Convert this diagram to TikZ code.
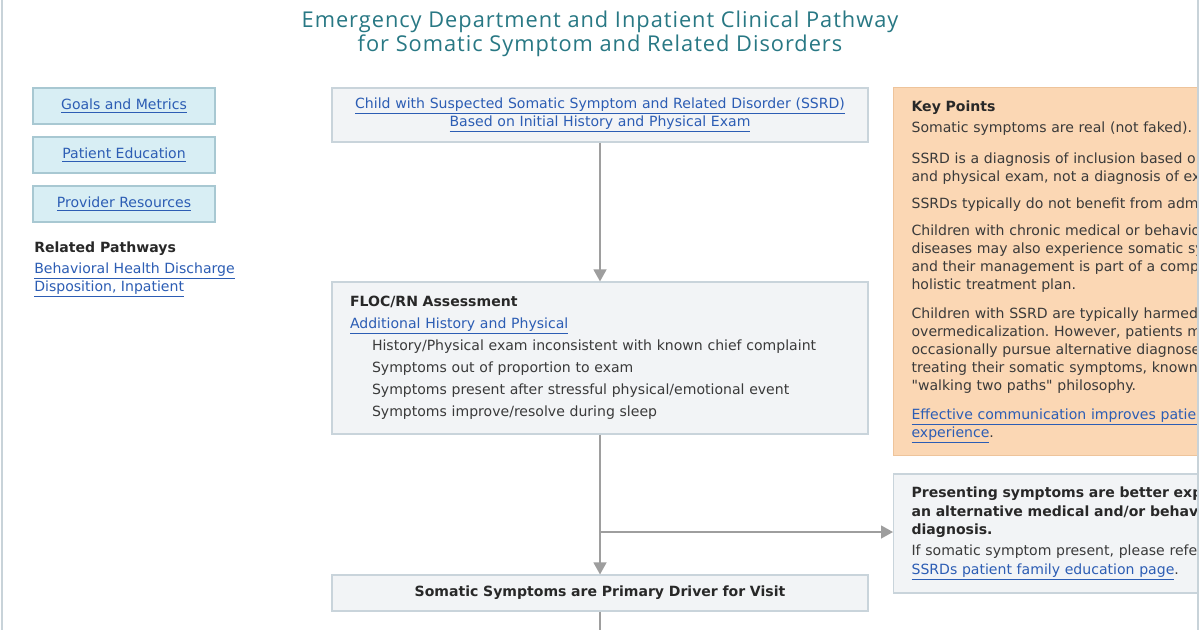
\documentclass[tikz,border=0pt]{standalone}
\usepackage{fontspec}
\setmainfont{DejaVu Sans}
\newfontfamily\titlefont[LetterSpace=4.5]{Open Sans}
\usetikzlibrary{arrows.meta}
\frenchspacing

\definecolor{titleteal}{RGB}{40,120,132}
\definecolor{frameline}{RGB}{200,211,217}
\definecolor{navfill}{RGB}{216,238,244}
\definecolor{navline}{RGB}{168,200,210}
\definecolor{boxfill}{RGB}{242,244,246}
\definecolor{boxline}{RGB}{201,212,219}
\definecolor{keyfill}{RGB}{251,215,180}
\definecolor{keyline}{RGB}{238,196,155}
\definecolor{arrowgray}{RGB}{158,158,158}
\definecolor{linkblue}{RGB}{44,93,180}
\definecolor{bodytext}{RGB}{58,58,58}
\definecolor{headtext}{RGB}{40,40,40}

\newcommand\lnk[1]{{\color{linkblue}\underline{#1}}}

\begin{document}
\begin{tikzpicture}[
  navbox/.style={fill=navfill, draw=navline, line width=0.8pt, minimum width=4.55cm, minimum height=0.9cm, font=\fontsize{10}{12.8}\selectfont},
  flowbox/.style={fill=boxfill, draw=boxline, line width=0.8pt, inner xsep=0.45cm, text=bodytext},
  keybox/.style={fill=keyfill, draw=keyline, line width=0.8pt, inner xsep=0.45cm, text width=8cm, align=left, text=bodytext, font=\fontsize{10}{12.8}\selectfont},
  flowline/.style={draw=arrowgray, line width=1.4pt},
  flowarrow/.style={flowline, -{Triangle[length=0.3cm,width=0.32cm]}}
]
  \useasboundingbox (0cm,0cm) rectangle (30cm,-15.75cm);
  \fill[white] (0cm,0cm) rectangle (30cm,-15.75cm);

  \begin{scope}
  \clip (0.05cm,0cm) rectangle (29.95cm,-15.75cm);

  % title
  \node[align=center, text=titleteal, font=\titlefont\fontsize{15.5}{17}\selectfont] (title) at (15cm,-0.85cm)
    {Emergency Department and Inpatient Clinical Pathway\\for Somatic Symptom and Related Disorders};

  % left menu
  \node[navbox] (goals) at (3.1cm,-2.65cm) {\lnk{Goals and Metrics}};
  \node[navbox] (education) at (3.1cm,-3.875cm) {\lnk{Patient Education}};
  \node[navbox] (resources) at (3.1cm,-5.1cm) {\lnk{Provider Resources}};
  \node[anchor=west, inner sep=0pt, text=headtext, font=\bfseries\fontsize{10}{12.8}\selectfont] (related) at (0.85cm,-6.225cm) {Related Pathways};
  \node[anchor=west, inner sep=0pt, align=left, font=\fontsize{10}{12.8}\selectfont] (bhdisp) at (0.85cm,-7.0cm)
    {\lnk{Behavioral Health Discharge}\\\lnk{Disposition, Inpatient}};

  % main flow
  \node[flowbox, text width=12.5cm, align=center, minimum height=1.35cm, font=\fontsize{10}{12.8}\selectfont] (start) at (15cm,-2.875cm)
    {\lnk{Child with Suspected Somatic Symptom and Related Disorder (SSRD)}\\\lnk{Based on Initial History and Physical Exam}};

  \node[flowbox, text width=12.5cm, align=left, minimum height=3.8cm, font=\fontsize{10}{15.6}\selectfont] (floc) at (15cm,-8.95cm)
    {{\color{headtext}\bfseries FLOC/RN Assessment}\\
     \lnk{Additional History and Physical}\\
     \hspace*{0.55cm}History/Physical exam inconsistent with known chief complaint\\
     \hspace*{0.55cm}Symptoms out of proportion to exam\\
     \hspace*{0.55cm}Symptoms present after stressful physical/emotional event\\
     \hspace*{0.55cm}Symptoms improve/resolve during sleep};

  \node[flowbox, text width=12.5cm, align=center, minimum height=0.9cm, text=headtext, font=\bfseries\fontsize{10}{12.8}\selectfont] (primary) at (15cm,-14.825cm)
    {Somatic Symptoms are Primary Driver for Visit};

  \node[flowbox, anchor=west, text width=8cm, align=left, minimum height=2.975cm, font=\fontsize{10}{13.2}\selectfont] (alt) at (22.325cm,-13.3375cm)
    {{\color{headtext}\bfseries Presenting symptoms are better exp\\
     an alternative medical and/or behav\\
     diagnosis.}\\[1.5pt]
     If somatic symptom present, please refe\\
     \lnk{SSRDs patient family education page}.};

  % key points
  \node[keybox, anchor=north west, minimum height=9.2cm] (keypts) at (22.325cm,-2.175cm)
    {{\color{headtext}\bfseries Key Points}\\[2.5pt]
     Somatic symptoms are real (not faked).\\[9pt]
     SSRD is a diagnosis of inclusion based o\\
     and physical exam, not a diagnosis of ex\\[6.4pt]
     SSRDs typically do not benefit from adm\\[6.4pt]
     Children with chronic medical or behavio\\
     diseases may also experience somatic sy\\
     and their management is part of a comp\\
     holistic treatment plan.\\[7.8pt]
     Children with SSRD are typically harmed\\
     overmedicalization. However, patients m\\
     occasionally pursue alternative diagnose\\
     treating their somatic symptoms, known\\
     \textquotedbl walking two paths\textquotedbl{} philosophy.\\[7.8pt]
     \lnk{Effective communication improves patien}\\
     \lnk{experience}.};

  % connectors
  \coordinate (split) at (15cm,-13.3cm);
  \coordinate (below) at (15cm,-15.75cm);
  \draw[flowarrow] (start.south) -- (floc.north);
  \draw[flowline] (floc.south) -- (split);
  \draw[flowarrow] (split) -- (primary.north);
  \draw[flowarrow] (split) -- (split -| alt.west);
  \draw[flowline] (primary.south) -- (below);
  \end{scope}

  % page edges
  \draw[frameline, line width=1.2pt] (0.05cm,0cm) -- (0.05cm,-15.75cm);
  \draw[frameline, line width=1.2pt] (29.95cm,0cm) -- (29.95cm,-15.75cm);
\end{tikzpicture}
\end{document}
